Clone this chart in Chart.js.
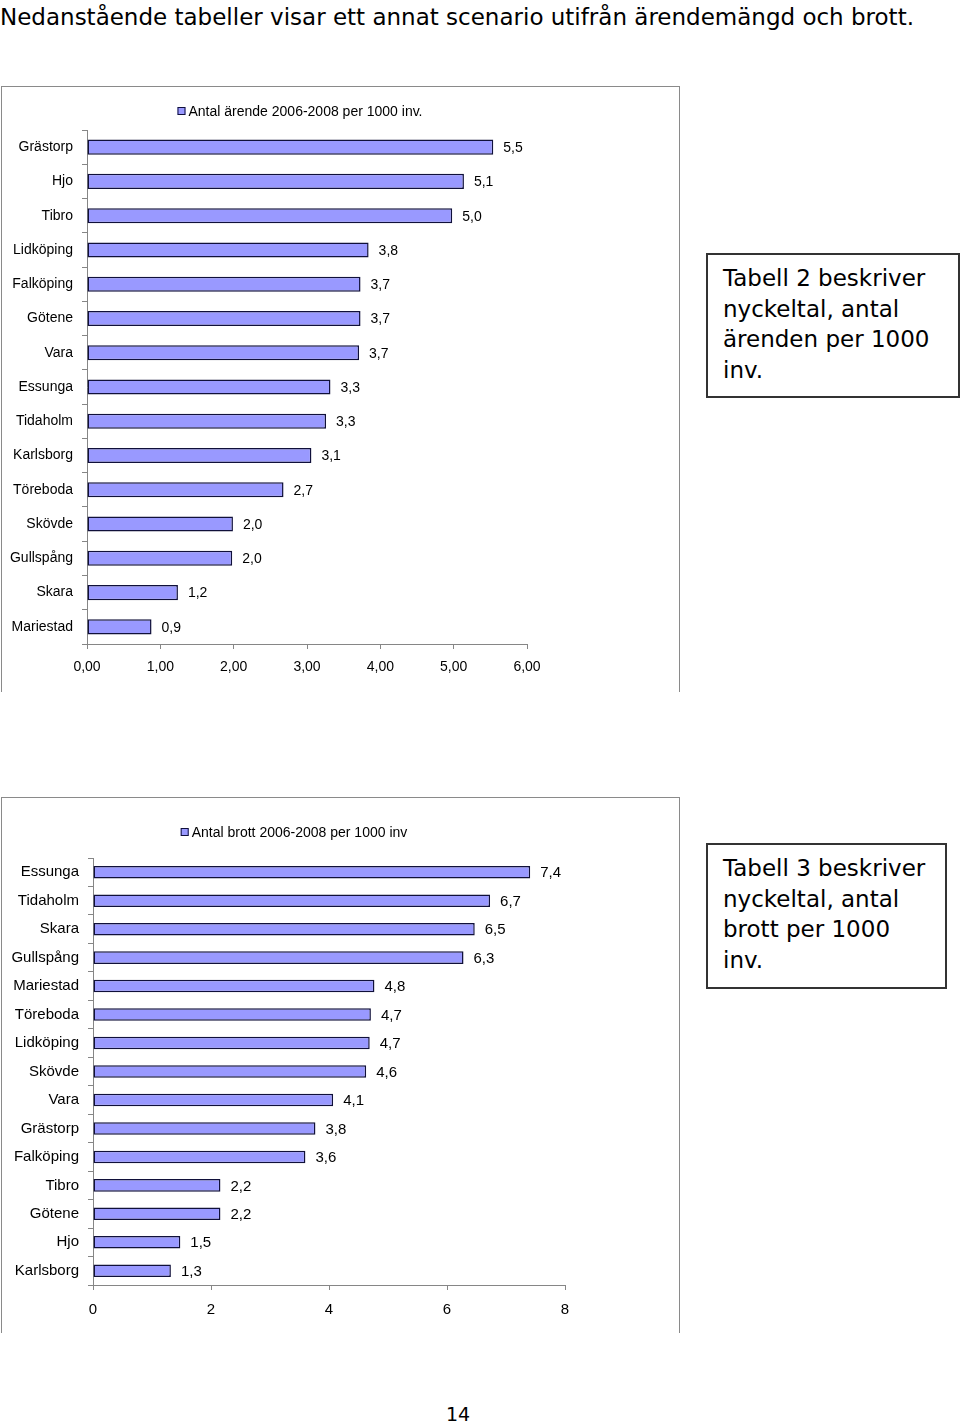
<!DOCTYPE html>
<html>
<head>
<meta charset="utf-8">
<script src="https://cdn.jsdelivr.net/npm/chart.js"></script>
<style>
  body { margin: 0; background: #fff; width: 960px; height: 1422px; position: relative; overflow: hidden; }
  .heading { position: absolute; left: 0; top: 4px; font: 23px "DejaVu Sans", sans-serif; white-space: nowrap; color: #000; }
  .frame { position: absolute; border: 1px solid #8a8a8a; border-bottom: none; box-sizing: border-box; }
  .wrap { position: absolute; left: 0; width: 680px; }
  .note { position: absolute; border: 2px solid #333; box-sizing: border-box; padding: 8px 0 0 15px;
          font: 23px/30.5px "DejaVu Sans", sans-serif; color: #000; }
  .page { position: absolute; left: 0; width: 916px; text-align: center; top: 1403px; font: 19px "DejaVu Sans", sans-serif; }
</style>
</head>
<body>
<div class="heading">Nedanstående tabeller visar ett annat scenario utifrån ärendemängd och brott.</div>

<div class="frame" style="left:1px; top:86px; width:679px; height:606px;"></div>
<div class="wrap" style="top:86px; height:605px;"><canvas id="arendeChart"></canvas></div>
<div class="note" style="left:706px; top:253px; width:254px; height:145px;">Tabell 2 beskriver<br>nyckeltal, antal<br>ärenden per 1000<br>inv.</div>

<div class="frame" style="left:1px; top:797px; width:679px; height:536px;"></div>
<div class="wrap" style="top:797px; height:536px;"><canvas id="brottChart"></canvas></div>
<div class="note" style="left:706px; top:843px; width:241px; height:146px;">Tabell 3 beskriver<br>nyckeltal, antal<br>brott per 1000<br>inv.</div>

<div class="page">14</div>

<script>
// Tabell 2: ärenden per 1000 inv. (stapellängder)
var arendeKommuner = ['Grästorp', 'Hjo', 'Tibro', 'Lidköping', 'Falköping', 'Götene', 'Vara', 'Essunga',
    'Tidaholm', 'Karlsborg', 'Töreboda', 'Skövde', 'Gullspång', 'Skara', 'Mariestad'];
var arendeVarden = [5.54, 5.14, 4.98, 3.84, 3.73, 3.73, 3.71, 3.32, 3.26, 3.06, 2.68, 1.99, 1.98, 1.24, 0.88];
var arendeTicks = [0, 1, 2, 3, 4, 5, 6];

// Tabell 3: brott per 1000 inv.
var brottKommuner = ['Essunga', 'Tidaholm', 'Skara', 'Gullspång', 'Mariestad', 'Töreboda', 'Lidköping', 'Skövde',
    'Vara', 'Grästorp', 'Falköping', 'Tibro', 'Götene', 'Hjo', 'Karlsborg'];
var brottVarden = [7.41, 6.73, 6.47, 6.28, 4.77, 4.71, 4.69, 4.63, 4.07, 3.77, 3.6, 2.16, 2.16, 1.48, 1.32];
var brottTicks = [0, 2, 4, 6, 8];

var FONT = 'Liberation Sans, Arial, sans-serif';
var AXIS = '#868686';
var FILL = '#9999ff';
var EDGE = '#10103a';

// värde-etiketter till höger om staplarna, med decimalkomma
var valueLabels = {
    id: 'valueLabels',
    afterDatasetsDraw: function (chart, args, opts) {
        var ctx = chart.ctx;
        var ds = chart.data.datasets[0];
        ctx.save();
        ctx.font = opts.size + 'px ' + FONT;
        ctx.fillStyle = '#000';
        ctx.textAlign = 'left';
        ctx.textBaseline = 'middle';
        chart.getDatasetMeta(0).data.forEach(function (bar, i) {
            var txt = ds.data[i].toFixed(1).replace('.', ',');
            ctx.fillText(txt, bar.x + opts.gap, bar.y + 1);
        });
        ctx.restore();
    }
};

// liten förklaring (Excel-stil) ovanför diagrammet
var seriesKey = {
    id: 'seriesKey',
    afterDraw: function (chart, args, opts) {
        var ctx = chart.ctx;
        var ds = chart.data.datasets[0];
        ctx.save();
        ctx.font = '14px ' + FONT;
        var w = 8 + 3 + ctx.measureText(ds.label).width;
        var x = opts.cx - w / 2;
        ctx.fillStyle = FILL;
        ctx.fillRect(x, opts.y - 4, 8, 8);
        ctx.strokeStyle = EDGE;
        ctx.lineWidth = 1;
        ctx.strokeRect(x + 0.5, opts.y - 3.5, 7, 7);
        ctx.fillStyle = '#000';
        ctx.textBaseline = 'middle';
        ctx.fillText(ds.label, x + 11, opts.y + 1);
        ctx.restore();
    }
};

function makeChart(id, labels, values, ticks, cfg) {
    return new Chart(document.getElementById(id).getContext('2d'), {
        type: 'bar',
        data: {
            labels: labels,
            datasets: [{
                label: cfg.label,
                data: values,
                backgroundColor: FILL,
                borderColor: EDGE,
                borderWidth: 1.5,
                borderSkipped: false,
                categoryPercentage: 1,
                barPercentage: 0.44
            }]
        },
        plugins: [valueLabels, seriesKey],
        options: {
            indexAxis: 'y',
            responsive: true,
            maintainAspectRatio: false,
            animation: false,
            layout: { padding: cfg.padding },
            plugins: {
                legend: { display: false },
                tooltip: { enabled: false },
                valueLabels: { size: cfg.size, gap: 10 },
                seriesKey: cfg.key
            },
            scales: {
                x: {
                    min: ticks[0],
                    max: ticks[ticks.length - 1],
                    afterBuildTicks: function (axis) {
                        axis.ticks = ticks.map(function (v) { return { value: v }; });
                    },
                    afterFit: function (axis) { axis.height = 40; },
                    grid: { drawOnChartArea: false, tickLength: 5, color: AXIS },
                    border: { color: AXIS },
                    ticks: {
                        padding: cfg.xPad,
                        color: '#000',
                        font: { family: FONT, size: cfg.size },
                        callback: cfg.tickFormat
                    }
                },
                y: {
                    afterFit: function (axis) { axis.width = cfg.axisLeft; },
                    grid: { drawOnChartArea: false, tickLength: 5, color: AXIS, offset: true },
                    border: { color: AXIS },
                    ticks: {
                        padding: 9,
                        color: '#000',
                        font: { family: FONT, size: cfg.size }
                    }
                }
            }
        }
    });
}

makeChart('arendeChart', arendeKommuner, arendeVarden, arendeTicks, {
    label: 'Antal ärende 2006-2008 per 1000 inv.',
    size: 14,
    axisLeft: 87,
    xPad: 10,
    padding: { left: 0, right: 153, top: 44, bottom: 7 },
    key: { cx: 300, y: 25 },
    tickFormat: function (v) { return v.toFixed(2).replace('.', ','); }
});

makeChart('brottChart', brottKommuner, brottVarden, brottTicks, {
    label: 'Antal brott 2006-2008 per 1000 inv',
    size: 15,
    axisLeft: 93,
    xPad: 11,
    padding: { left: 0, right: 115, top: 61, bottom: 8 },
    key: { cx: 294, y: 35 },
    tickFormat: function (v) { return String(v); }
});
</script>
</body>
</html>
